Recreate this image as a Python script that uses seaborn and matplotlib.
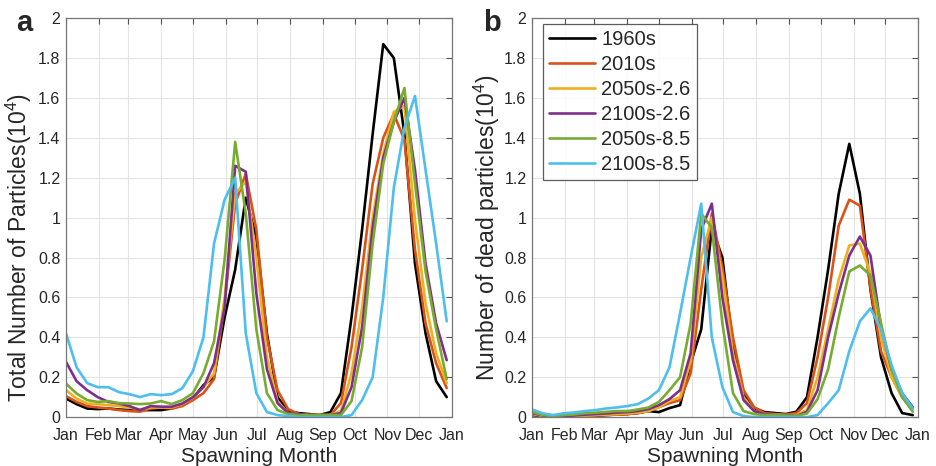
import pandas as pd
import matplotlib.pyplot as plt
import seaborn as sns

# Datos (cada 10 días del año, 0..360)
dias = list(range(0, 361, 10))
escenarios = ["1960s", "2010s", "2050s-2.6", "2100s-2.6", "2050s-8.5", "2100s-8.5"]
colores = ["#000000", "#D95319", "#EDB120", "#7E2F8E", "#77AC30", "#4DBEEE"]

# Panel a: número total de partículas (10^4)
tot_1960s = [0.093, 0.065, 0.043, 0.040, 0.043, 0.038, 0.035, 0.035, 0.035, 0.035,
             0.043, 0.060, 0.093, 0.160, 0.200, 0.500, 0.740, 1.100, 0.900, 0.420,
             0.100, 0.030, 0.020, 0.015, 0.010, 0.025, 0.120, 0.500, 0.940, 1.420,
             1.870, 1.800, 1.420, 0.770, 0.420, 0.180, 0.100]
tot_2010s = [0.105, 0.076, 0.055, 0.048, 0.043, 0.035, 0.030, 0.027, 0.043, 0.048,
             0.043, 0.055, 0.085, 0.120, 0.190, 0.570, 1.070, 1.220, 0.940, 0.400,
             0.135, 0.040, 0.015, 0.010, 0.010, 0.010, 0.070, 0.350, 0.740, 1.170,
             1.400, 1.520, 1.390, 0.840, 0.470, 0.270, 0.145]
tot_2050_26 = [0.135, 0.093, 0.068, 0.065, 0.060, 0.055, 0.048, 0.038, 0.048, 0.048,
               0.048, 0.065, 0.098, 0.150, 0.220, 0.600, 1.120, 1.180, 0.800, 0.300,
               0.080, 0.020, 0.015, 0.010, 0.010, 0.010, 0.030, 0.220, 0.550, 1.000,
               1.320, 1.530, 1.560, 0.990, 0.570, 0.320, 0.170]
tot_2100_26 = [0.277, 0.180, 0.135, 0.100, 0.076, 0.068, 0.055, 0.035, 0.055, 0.052,
               0.052, 0.068, 0.100, 0.150, 0.270, 0.550, 1.260, 1.230, 0.620, 0.240,
               0.070, 0.020, 0.015, 0.010, 0.010, 0.010, 0.020, 0.150, 0.450, 0.950,
               1.300, 1.480, 1.600, 1.240, 0.770, 0.470, 0.285]
tot_2050_85 = [0.168, 0.118, 0.085, 0.076, 0.080, 0.070, 0.068, 0.065, 0.068, 0.080,
               0.065, 0.085, 0.120, 0.220, 0.380, 0.790, 1.380, 1.020, 0.440, 0.120,
               0.035, 0.015, 0.010, 0.010, 0.010, 0.010, 0.010, 0.080, 0.350, 0.870,
               1.270, 1.480, 1.650, 1.170, 0.730, 0.440, 0.190]
tot_2100_85 = [0.420, 0.250, 0.170, 0.150, 0.150, 0.125, 0.115, 0.100, 0.115, 0.110,
               0.115, 0.145, 0.230, 0.400, 0.870, 1.090, 1.200, 0.420, 0.120, 0.025,
               0.010, 0.005, 0.000, 0.000, 0.000, 0.000, 0.000, 0.010, 0.085, 0.200,
               0.600, 1.150, 1.450, 1.610, 1.240, 0.870, 0.480]

# Panel b: partículas muertas (10^4)
dead_1960s = [0.010, 0.005, 0.000, 0.000, 0.002, 0.003, 0.005, 0.010, 0.013, 0.015,
              0.020, 0.030, 0.025, 0.045, 0.060, 0.270, 0.440, 0.950, 0.800, 0.350,
              0.120, 0.045, 0.025, 0.020, 0.015, 0.027, 0.100, 0.400, 0.740, 1.120,
              1.370, 1.120, 0.640, 0.300, 0.120, 0.020, 0.010]
dead_2010s = [0.020, 0.008, 0.003, 0.003, 0.005, 0.005, 0.008, 0.010, 0.012, 0.015,
              0.020, 0.030, 0.050, 0.070, 0.085, 0.220, 0.640, 1.020, 0.750, 0.400,
              0.135, 0.050, 0.020, 0.015, 0.012, 0.020, 0.070, 0.300, 0.600, 0.960,
              1.090, 1.060, 0.650, 0.330, 0.200, 0.100, 0.040]
dead_2050_26 = [0.015, 0.005, 0.003, 0.003, 0.005, 0.008, 0.010, 0.012, 0.015, 0.018,
                0.022, 0.030, 0.050, 0.080, 0.100, 0.280, 0.800, 1.000, 0.700, 0.320,
                0.100, 0.030, 0.015, 0.012, 0.010, 0.010, 0.035, 0.200, 0.440, 0.690,
                0.860, 0.870, 0.720, 0.400, 0.200, 0.100, 0.040]
dead_2100_26 = [0.020, 0.008, 0.003, 0.005, 0.008, 0.012, 0.015, 0.018, 0.022, 0.025,
                0.030, 0.040, 0.060, 0.090, 0.135, 0.320, 0.940, 1.070, 0.600, 0.285,
                0.085, 0.030, 0.015, 0.010, 0.010, 0.005, 0.027, 0.135, 0.400, 0.620,
                0.810, 0.905, 0.810, 0.450, 0.240, 0.120, 0.050]
dead_2050_85 = [0.026, 0.010, 0.005, 0.010, 0.013, 0.019, 0.022, 0.026, 0.030, 0.030,
                0.038, 0.048, 0.076, 0.135, 0.200, 0.470, 1.020, 0.950, 0.470, 0.120,
                0.030, 0.015, 0.010, 0.010, 0.008, 0.005, 0.018, 0.090, 0.240, 0.500,
                0.730, 0.760, 0.710, 0.470, 0.240, 0.100, 0.027]
dead_2100_85 = [0.038, 0.019, 0.010, 0.019, 0.023, 0.030, 0.035, 0.043, 0.048, 0.055,
                0.065, 0.093, 0.135, 0.250, 0.520, 0.800, 1.070, 0.400, 0.150, 0.025,
                0.005, 0.000, 0.000, 0.000, 0.000, 0.000, 0.000, 0.010, 0.070, 0.135,
                0.330, 0.480, 0.545, 0.440, 0.260, 0.120, 0.043]

meses = ["Jan", "Feb", "Mar", "Apr", "May", "Jun", "Jul", "Aug", "Sep", "Oct",
         "Nov", "Dec", "Jan"]
inicio_mes = [0, 31, 59, 90, 120, 151, 181, 212, 243, 273, 304, 334, 365]
yticks = [0, 0.2, 0.4, 0.6, 0.8, 1, 1.2, 1.4, 1.6, 1.8, 2]
ytick_labels = ["0", "0.2", "0.4", "0.6", "0.8", "1", "1.2", "1.4", "1.6", "1.8", "2"]


def tabla(series):
    filas = []
    for nombre, valores in zip(escenarios, series):
        for d, v in zip(dias, valores):
            filas.append({"dia": d, "valor": v, "escenario": nombre})
    return pd.DataFrame(filas)


df_a = tabla([tot_1960s, tot_2010s, tot_2050_26, tot_2100_26, tot_2050_85, tot_2100_85])
df_b = tabla([dead_1960s, dead_2010s, dead_2050_26, dead_2100_26, dead_2050_85, dead_2100_85])

sns.set_style("white")
plt.rcParams["font.family"] = ["Liberation Sans", "DejaVu Sans"]
plt.rcParams["mathtext.fontset"] = "custom"
plt.rcParams["mathtext.rm"] = "Liberation Sans"
plt.rcParams["mathtext.it"] = "Liberation Sans"

fig = plt.figure(figsize=(9.36, 4.66), dpi=100)
ax_a = fig.add_axes([0.0705, 0.105, 0.4124, 0.856])
ax_b = fig.add_axes([0.5684, 0.105, 0.4124, 0.856])

paleta = dict(zip(escenarios, colores))

# (eje, datos, etiqueta y, letra, posición etiqueta y)
paneles = [
    (ax_a, df_a, "Total Number of Particles(10$^{4}$)", "a", (-0.083, 0.424)),
    (ax_b, df_b, "Number of dead particles(10$^{4}$)", "b", (-0.078, 0.474)),
]

for ax, df, ylab, letra, pos in paneles:
    sns.lineplot(
        data=df,
        x="dia",
        y="valor",
        hue="escenario",
        palette=paleta,
        linewidth=1.9,
        errorbar=None,
        legend=(letra == "b"),
        ax=ax
    )
    ax.set_xlim(0, 365)
    ax.set_ylim(0, 2)
    ax.set_xticks(inicio_mes)
    ax.set_xticklabels(meses)
    ax.set_yticks(yticks)
    ax.set_yticklabels(ytick_labels)
    ax.grid(True, color="#e3e3e3", linewidth=0.8)
    ax.set_axisbelow(True)
    ax.tick_params(direction="in", length=4, width=0.8, colors="#555555",
                   labelcolor="#262626", labelsize=11.5, top=True, right=True)
    ax.tick_params(axis="x", pad=8)
    ax.tick_params(axis="y", pad=4)
    for s in ax.spines.values():
        s.set_color("#777777")
        s.set_linewidth(0.9)
    ax.set_xlabel("Spawning Month", fontsize=15, color="#262626", labelpad=3)
    ax.set_ylabel(ylab, fontsize=16.5, color="#262626")
    ax.yaxis.set_label_coords(pos[0], pos[1])

fig.text(0.026, 0.95, "a", fontsize=21, fontweight="bold", va="center", ha="center")
fig.text(0.526, 0.95, "b", fontsize=21, fontweight="bold", va="center", ha="center")

leg = ax_b.legend(
    loc="upper left",
    bbox_to_anchor=(0.028, 0.985),
    borderaxespad=0,
    fontsize=14.5,
    frameon=True,
    fancybox=False,
    edgecolor="#333333",
    handlelength=2.3,
    handletextpad=0.3,
    labelspacing=0.3,
    borderpad=0.3,
    title=None
)
leg.get_frame().set_linewidth(0.9)
for linea in leg.get_lines():
    linea.set_linewidth(1.9)

plt.savefig("out.png", dpi=100)
